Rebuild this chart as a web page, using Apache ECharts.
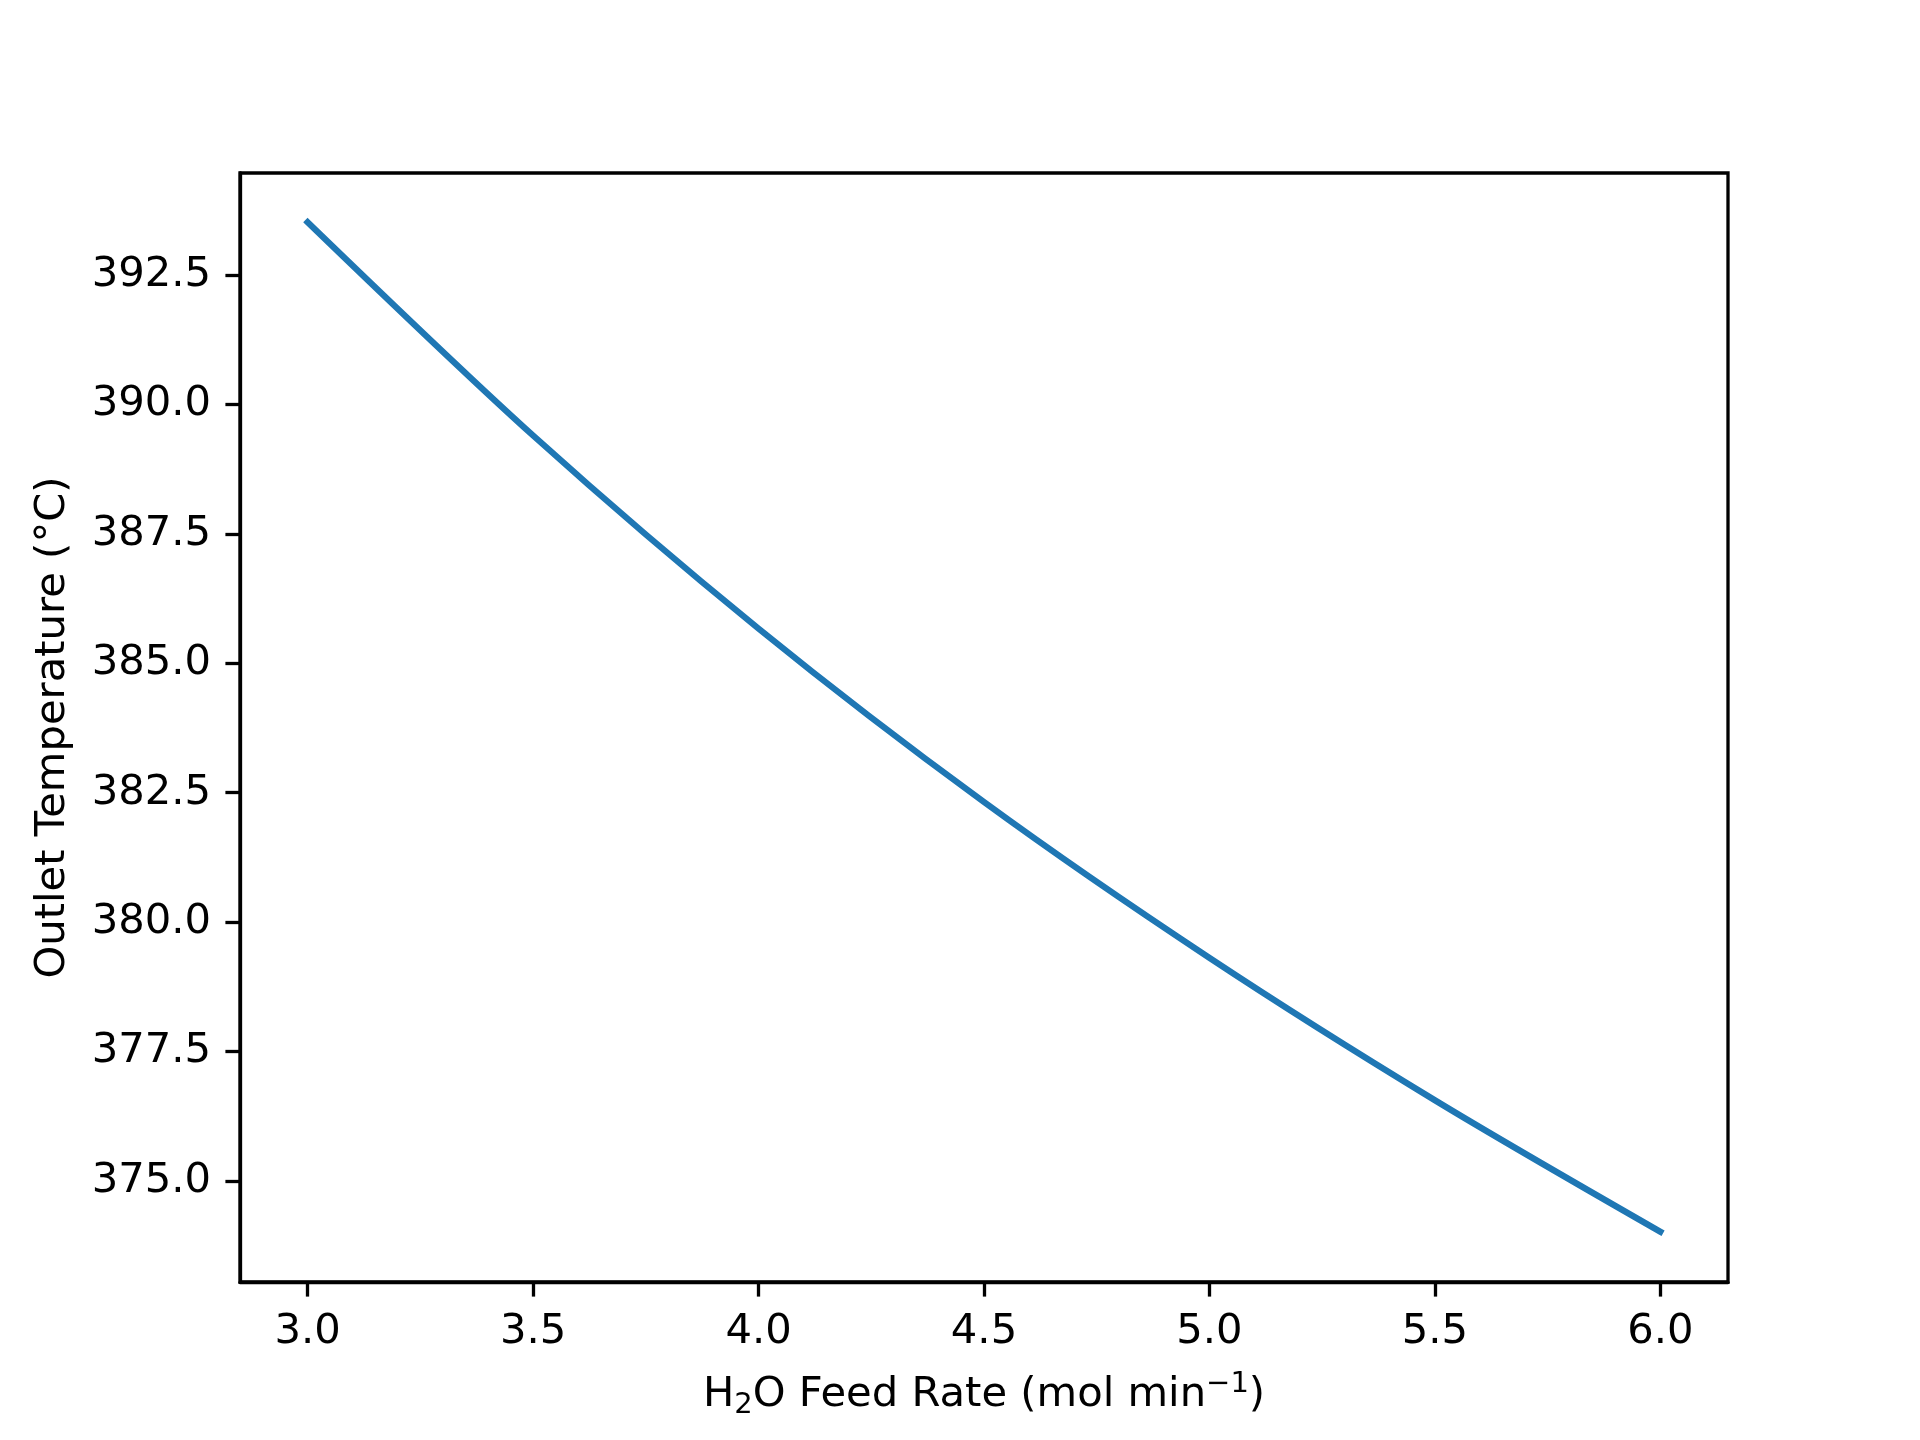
<!DOCTYPE html>
<html>
<head>
<meta charset="utf-8">
<title>Outlet Temperature vs H2O Feed Rate</title>
<script src="https://cdn.jsdelivr.net/npm/echarts@6.0.0/dist/echarts.min.js"></script>
<style>
  html, body { margin: 0; padding: 0; background: #fff; }
  #chart { width: 1920px; height: 1440px; }
</style>
</head>
<body>
<div id="chart"></div>
<script>
// values
const feedRate = [3.0, 3.5, 4.0, 4.5, 5.0, 5.5, 6.0]
const outletTemp = [393.52, 389.40, 385.67, 382.32, 379.31, 376.56, 374.02]

const xTicks = [3.0, 3.5, 4.0, 4.5, 5.0, 5.5, 6.0]
const yTicks = [375.0, 377.5, 380.0, 382.5, 385.0, 387.5, 390.0, 392.5]

const font = "DejaVu Sans"
const fs = 41.7

const chart = echarts.init(document.getElementById("chart"), null, { renderer: "canvas" })

const option = {
  backgroundColor: "#fff",
  animation: false,
  grid: {
    left: 240,
    right: 192,
    top: 173,
    bottom: 158,
    show: true,
    borderColor: "#000",
    borderWidth: 3.3,
    backgroundColor: "transparent",
  },
  xAxis: {
    type: "value",
    min: 2.85,
    max: 6.15,
    name: "{a|H}{sub|2}{a|O Feed Rate (mol min}{sup|−1}{a|)}",
    nameLocation: "middle",
    nameGap: 88,
    nameTextStyle: {
      color: "#000",
      fontFamily: font,
      fontSize: fs,
      rich: {
        a: { fontFamily: font, fontSize: fs, color: "#000", lineHeight: 50 },
        sub: { fontFamily: font, fontSize: 29, color: "#000", lineHeight: 30, verticalAlign: "bottom" },
        sup: { fontFamily: font, fontSize: 29, color: "#000", lineHeight: 20, verticalAlign: "top" },
      },
    },
    axisLine: { show: true, onZero: false, lineStyle: { color: "#000", width: 3.3 } },
    axisTick: {
      show: true,
      length: 14.6,
      customValues: xTicks,
      lineStyle: { color: "#000", width: 3.3 },
    },
    axisLabel: {
      customValues: xTicks,
      margin: 29,
      color: "#000",
      fontFamily: font,
      fontSize: fs,
      formatter: (v) => v.toFixed(1),
    },
    splitLine: { show: false },
  },
  yAxis: {
    type: "value",
    min: 373.05,
    max: 394.47,
    name: "Outlet Temperature (°C)",
    nameLocation: "middle",
    nameGap: 166,
    nameTextStyle: { color: "#000", fontFamily: font, fontSize: fs },
    axisLine: { show: true, onZero: false, lineStyle: { color: "#000", width: 3.3 } },
    axisTick: {
      show: true,
      length: 14.6,
      customValues: yTicks,
      lineStyle: { color: "#000", width: 3.3 },
    },
    axisLabel: {
      customValues: yTicks,
      margin: 29,
      color: "#000",
      fontFamily: font,
      fontSize: fs,
      formatter: (v) => v.toFixed(1),
    },
    splitLine: { show: false },
  },
  series: [
    {
      type: "line",
      data: feedRate.map((x, i) => [x, outletTemp[i]]),
      smooth: 0.3,
      showSymbol: false,
      lineStyle: { color: "#1f77b4", width: 6.25, cap: "square" },
    },
  ],
}

chart.setOption(option)
</script>
</body>
</html>
